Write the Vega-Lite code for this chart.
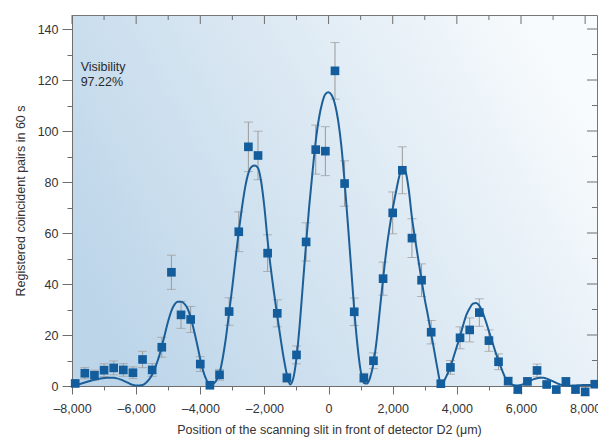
{
  "$schema": "https://vega.github.io/schema/vega-lite/v6.json",
  "width": 525,
  "height": 371,
  "autosize": {"type": "none"},
  "padding": {"left": 72, "top": 15, "right": 1, "bottom": 52},
  "background": "white",
  "config": {
    "font": "Liberation Sans",
    "view": {
      "stroke": "#777777",
      "strokeWidth": 1,
      "fill": {
        "gradient": "linear",
        "x1": 0, "y1": 0.7, "x2": 1, "y2": 0.3,
        "stops": [
          {"offset": 0, "color": "#bcd5e9"},
          {"offset": 0.5, "color": "#d9e7f2"},
          {"offset": 1, "color": "#f8fbfd"}
        ]
      }
    },
    "axis": {
      "grid": false,
      "domainColor": "#6e6e6e",
      "tickColor": "#6e6e6e",
      "labelColor": "#333333",
      "titleColor": "#333333",
      "labelFont": "Liberation Sans",
      "titleFont": "Liberation Sans",
      "labelFontSize": 12.5,
      "titleFontSize": 12.5,
      "titleFontWeight": "normal",
      "labelFlush": false,
      "labelOverlap": false,
      "labelBound": false
    }
  },
  "datasets": {
    "note": [{"t": "Visibility 97.22%"}],
    "xmajor": [{"v": -8000}, {"v": -6000}, {"v": -4000}, {"v": -2000}, {"v": 0}, {"v": 2000}, {"v": 4000}, {"v": 6000}, {"v": 8000}],
    "xminor": [{"v": -7000}, {"v": -5000}, {"v": -3000}, {"v": -1000}, {"v": 1000}, {"v": 3000}, {"v": 5000}, {"v": 7000}],
    "ymajor": [{"v": 20}, {"v": 40}, {"v": 60}, {"v": 80}, {"v": 100}, {"v": 120}, {"v": 140}],
    "yminor": [{"v": 10}, {"v": 30}, {"v": 50}, {"v": 70}, {"v": 90}, {"v": 110}, {"v": 130}],
    "curve": [
      {"x": -8000, "y": 0.3}, {"x": -7900, "y": 0.45}, {"x": -7800, "y": 0.7}, {"x": -7700, "y": 1.0},
      {"x": -7600, "y": 1.35}, {"x": -7500, "y": 1.75}, {"x": -7400, "y": 2.1}, {"x": -7300, "y": 2.45},
      {"x": -7200, "y": 2.75}, {"x": -7100, "y": 2.95}, {"x": -7000, "y": 3.1}, {"x": -6900, "y": 3.2},
      {"x": -6800, "y": 3.25}, {"x": -6700, "y": 3.2}, {"x": -6600, "y": 3.0}, {"x": -6500, "y": 2.6},
      {"x": -6400, "y": 2.1}, {"x": -6300, "y": 1.5}, {"x": -6200, "y": 0.9}, {"x": -6100, "y": 0.45},
      {"x": -6000, "y": 0.2}, {"x": -5900, "y": 0.2}, {"x": -5800, "y": 0.4}, {"x": -5700, "y": 1.2},
      {"x": -5600, "y": 2.5}, {"x": -5500, "y": 4.5}, {"x": -5400, "y": 7.5}, {"x": -5300, "y": 11},
      {"x": -5200, "y": 15.5}, {"x": -5100, "y": 20.5}, {"x": -5000, "y": 25.5}, {"x": -4900, "y": 29.5},
      {"x": -4800, "y": 32}, {"x": -4700, "y": 33}, {"x": -4600, "y": 33}, {"x": -4500, "y": 32.3},
      {"x": -4400, "y": 30.5}, {"x": -4300, "y": 27}, {"x": -4200, "y": 22}, {"x": -4100, "y": 16.5},
      {"x": -4000, "y": 10.5}, {"x": -3900, "y": 5.5}, {"x": -3800, "y": 2.2}, {"x": -3700, "y": 0.4},
      {"x": -3600, "y": 0.8}, {"x": -3500, "y": 2.2}, {"x": -3400, "y": 5}, {"x": -3300, "y": 11},
      {"x": -3200, "y": 19}, {"x": -3100, "y": 29}, {"x": -3000, "y": 39}, {"x": -2900, "y": 50},
      {"x": -2800, "y": 60.5}, {"x": -2700, "y": 70}, {"x": -2600, "y": 78}, {"x": -2500, "y": 83.5},
      {"x": -2400, "y": 86}, {"x": -2300, "y": 86.5}, {"x": -2200, "y": 85.5}, {"x": -2100, "y": 80},
      {"x": -2000, "y": 70}, {"x": -1900, "y": 57}, {"x": -1800, "y": 46}, {"x": -1700, "y": 36.5},
      {"x": -1600, "y": 27.5}, {"x": -1500, "y": 19}, {"x": -1400, "y": 11}, {"x": -1300, "y": 4.5},
      {"x": -1200, "y": 0.6}, {"x": -1100, "y": 3}, {"x": -1000, "y": 11}, {"x": -900, "y": 24},
      {"x": -800, "y": 40}, {"x": -700, "y": 56}, {"x": -600, "y": 71}, {"x": -500, "y": 84},
      {"x": -400, "y": 96}, {"x": -300, "y": 105}, {"x": -200, "y": 111}, {"x": -100, "y": 114.5},
      {"x": 0, "y": 115.2}, {"x": 100, "y": 114}, {"x": 200, "y": 110.5}, {"x": 300, "y": 104},
      {"x": 400, "y": 94}, {"x": 500, "y": 80}, {"x": 600, "y": 64}, {"x": 700, "y": 47},
      {"x": 800, "y": 30}, {"x": 900, "y": 16}, {"x": 1000, "y": 6}, {"x": 1100, "y": 1.2},
      {"x": 1200, "y": 1.0}, {"x": 1300, "y": 3.5}, {"x": 1400, "y": 9}, {"x": 1500, "y": 18},
      {"x": 1600, "y": 30}, {"x": 1700, "y": 42}, {"x": 1800, "y": 53}, {"x": 1900, "y": 62},
      {"x": 2000, "y": 69.5}, {"x": 2100, "y": 76}, {"x": 2200, "y": 82}, {"x": 2300, "y": 85.2},
      {"x": 2400, "y": 84}, {"x": 2500, "y": 77}, {"x": 2600, "y": 66}, {"x": 2700, "y": 57.5},
      {"x": 2800, "y": 49.5}, {"x": 2900, "y": 41.5}, {"x": 3000, "y": 34}, {"x": 3100, "y": 27.5},
      {"x": 3200, "y": 20.5}, {"x": 3300, "y": 13.5}, {"x": 3400, "y": 6.5}, {"x": 3500, "y": 0.8},
      {"x": 3600, "y": 2}, {"x": 3700, "y": 4.5}, {"x": 3800, "y": 7.5}, {"x": 3900, "y": 11.5},
      {"x": 4000, "y": 15.5}, {"x": 4100, "y": 19.5}, {"x": 4200, "y": 24}, {"x": 4300, "y": 28},
      {"x": 4400, "y": 30.5}, {"x": 4500, "y": 32.3}, {"x": 4600, "y": 32.6}, {"x": 4700, "y": 31.5},
      {"x": 4800, "y": 29}, {"x": 4900, "y": 25.5}, {"x": 5000, "y": 21.5}, {"x": 5100, "y": 17.5},
      {"x": 5200, "y": 13.5}, {"x": 5300, "y": 10}, {"x": 5400, "y": 6.5}, {"x": 5500, "y": 3.5},
      {"x": 5600, "y": 1.5}, {"x": 5700, "y": 0.6}, {"x": 5800, "y": 0.3}, {"x": 5900, "y": 0.2},
      {"x": 6000, "y": 0.4}, {"x": 6100, "y": 0.9}, {"x": 6200, "y": 1.5}, {"x": 6300, "y": 2.1},
      {"x": 6400, "y": 2.7}, {"x": 6500, "y": 3.05}, {"x": 6600, "y": 3.2}, {"x": 6700, "y": 3.2},
      {"x": 6800, "y": 2.9}, {"x": 6900, "y": 2.4}, {"x": 7000, "y": 1.8}, {"x": 7100, "y": 1.2},
      {"x": 7200, "y": 0.7}, {"x": 7300, "y": 0.3}, {"x": 7400, "y": 0.15}, {"x": 7500, "y": 0.1},
      {"x": 7600, "y": 0.15}, {"x": 7700, "y": 0.2}, {"x": 7800, "y": 0.3}, {"x": 7900, "y": 0.35},
      {"x": 8000, "y": 0.4}, {"x": 8100, "y": 0.4}, {"x": 8200, "y": 0.4}, {"x": 8300, "y": 0.35}
    ],
    "pts": [
      {"x": -7900, "y": 1.0, "lo": 0.0, "hi": 2.0},
      {"x": -7600, "y": 5.0, "lo": 2.8, "hi": 7.2},
      {"x": -7300, "y": 4.2, "lo": 2.2, "hi": 6.2},
      {"x": -7000, "y": 6.2, "lo": 3.7, "hi": 8.7},
      {"x": -6700, "y": 7.1, "lo": 4.4, "hi": 9.8},
      {"x": -6400, "y": 6.3, "lo": 3.8, "hi": 8.8},
      {"x": -6100, "y": 5.2, "lo": 2.9, "hi": 7.5},
      {"x": -5800, "y": 10.4, "lo": 7.2, "hi": 13.6},
      {"x": -5500, "y": 6.3, "lo": 3.8, "hi": 8.8},
      {"x": -5200, "y": 15.2, "lo": 11.3, "hi": 19.1},
      {"x": -4900, "y": 44.6, "lo": 37.9, "hi": 51.3},
      {"x": -4600, "y": 27.9, "lo": 22.6, "hi": 33.2},
      {"x": -4300, "y": 26.1, "lo": 21.0, "hi": 31.2},
      {"x": -4000, "y": 8.6, "lo": 5.7, "hi": 11.5},
      {"x": -3700, "y": 0.3, "lo": -0.2, "hi": 0.8},
      {"x": -3400, "y": 4.4, "lo": 2.3, "hi": 6.5},
      {"x": -3100, "y": 29.2, "lo": 23.8, "hi": 34.6},
      {"x": -2800, "y": 60.5, "lo": 52.7, "hi": 68.3},
      {"x": -2500, "y": 93.8, "lo": 84.1, "hi": 103.5},
      {"x": -2200, "y": 90.4, "lo": 80.9, "hi": 99.9},
      {"x": -1900, "y": 52.1, "lo": 44.9, "hi": 59.3},
      {"x": -1600, "y": 28.5, "lo": 23.2, "hi": 33.8},
      {"x": -1300, "y": 3.2, "lo": 1.4, "hi": 5.0},
      {"x": -1000, "y": 12.2, "lo": 8.7, "hi": 15.7},
      {"x": -700, "y": 56.5, "lo": 49.0, "hi": 64.0},
      {"x": -400, "y": 92.7, "lo": 83.1, "hi": 102.3},
      {"x": -100, "y": 92.1, "lo": 82.5, "hi": 101.7},
      {"x": 200, "y": 123.6, "lo": 112.5, "hi": 134.7},
      {"x": 500, "y": 79.4, "lo": 70.5, "hi": 88.3},
      {"x": 800, "y": 29.1, "lo": 23.7, "hi": 34.5},
      {"x": 1100, "y": 3.2, "lo": 1.4, "hi": 5.0},
      {"x": 1400, "y": 9.9, "lo": 6.8, "hi": 13.0},
      {"x": 1700, "y": 42.1, "lo": 35.6, "hi": 48.6},
      {"x": 2000, "y": 67.9, "lo": 59.7, "hi": 76.1},
      {"x": 2300, "y": 84.6, "lo": 75.4, "hi": 93.8},
      {"x": 2600, "y": 58.0, "lo": 50.4, "hi": 65.6},
      {"x": 2900, "y": 41.5, "lo": 35.1, "hi": 47.9},
      {"x": 3200, "y": 21.1, "lo": 16.5, "hi": 25.7},
      {"x": 3500, "y": 0.9, "lo": 0.0, "hi": 1.8},
      {"x": 3800, "y": 7.3, "lo": 4.6, "hi": 10.0},
      {"x": 4100, "y": 18.9, "lo": 14.6, "hi": 23.2},
      {"x": 4400, "y": 22.0, "lo": 17.3, "hi": 26.7},
      {"x": 4700, "y": 28.8, "lo": 23.4, "hi": 34.2},
      {"x": 5000, "y": 17.8, "lo": 13.6, "hi": 22.0},
      {"x": 5300, "y": 9.5, "lo": 6.4, "hi": 12.6},
      {"x": 5600, "y": 1.9, "lo": 0.5, "hi": 3.3},
      {"x": 5900, "y": -1.4, "lo": -2.6, "hi": -0.2},
      {"x": 6200, "y": 1.8, "lo": 0.5, "hi": 3.1},
      {"x": 6500, "y": 6.1, "lo": 3.6, "hi": 8.6},
      {"x": 6800, "y": 0.6, "lo": -0.2, "hi": 1.4},
      {"x": 7100, "y": -1.4, "lo": -2.6, "hi": -0.2},
      {"x": 7400, "y": 1.8, "lo": 0.5, "hi": 3.1},
      {"x": 7700, "y": -1.4, "lo": -2.6, "hi": -0.2},
      {"x": 8000, "y": -2.3, "lo": -3.8, "hi": -0.8},
      {"x": 8300, "y": 0.7, "lo": -0.1, "hi": 1.5}
    ]
  },
  "layer": [
    {
      "data": {"name": "xmajor"},
      "mark": {"type": "rule", "color": "#6e6e6e", "strokeWidth": 1},
      "encoding": {
        "x": {"field": "v", "type": "quantitative", "scale": {"domain": [-8000, 8370], "nice": false, "zero": false}, "axis": null},
        "y": {"datum": 145.5, "type": "quantitative", "scale": {"domain": [0, 145.5], "nice": false}, "axis": null},
        "y2": {"datum": 141.97}
      }
    },
    {
      "data": {"name": "xminor"},
      "mark": {"type": "rule", "color": "#6e6e6e", "strokeWidth": 1},
      "encoding": {
        "x": {"field": "v", "type": "quantitative", "scale": {"domain": [-8000, 8370], "nice": false, "zero": false}, "axis": null},
        "y": {"datum": 145.5, "type": "quantitative", "scale": {"domain": [0, 145.5], "nice": false}, "axis": null},
        "y2": {"datum": 143.54}
      }
    },
    {
      "data": {"name": "ymajor"},
      "mark": {"type": "rule", "color": "#6e6e6e", "strokeWidth": 1},
      "encoding": {
        "y": {"field": "v", "type": "quantitative", "scale": {"domain": [0, 145.5], "nice": false}, "axis": null},
        "x": {"datum": 8370, "type": "quantitative", "scale": {"domain": [-8000, 8370], "nice": false, "zero": false}, "axis": null},
        "x2": {"datum": 8058}
      }
    },
    {
      "data": {"name": "yminor"},
      "mark": {"type": "rule", "color": "#6e6e6e", "strokeWidth": 1},
      "encoding": {
        "y": {"field": "v", "type": "quantitative", "scale": {"domain": [0, 145.5], "nice": false}, "axis": null},
        "x": {"datum": 8370, "type": "quantitative", "scale": {"domain": [-8000, 8370], "nice": false, "zero": false}, "axis": null},
        "x2": {"datum": 8214}
      }
    },
    {
      "data": {"name": "pts"},
      "mark": {"type": "rule", "color": "#9a9a9a", "strokeWidth": 1},
      "encoding": {
        "x": {"field": "x", "type": "quantitative", "scale": {"domain": [-8000, 8370], "nice": false, "zero": false}, "axis": null},
        "y": {"field": "lo", "type": "quantitative", "scale": {"domain": [0, 145.5], "nice": false}, "axis": null},
        "y2": {"field": "hi"}
      }
    },
    {
      "data": {"name": "pts"},
      "mark": {"type": "tick", "orient": "horizontal", "size": 9, "thickness": 1, "color": "#9a9a9a"},
      "encoding": {
        "x": {"field": "x", "type": "quantitative", "scale": {"domain": [-8000, 8370], "nice": false, "zero": false}, "axis": null},
        "y": {"field": "lo", "type": "quantitative", "scale": {"domain": [0, 145.5], "nice": false}, "axis": null}
      }
    },
    {
      "data": {"name": "pts"},
      "mark": {"type": "tick", "orient": "horizontal", "size": 9, "thickness": 1, "color": "#9a9a9a"},
      "encoding": {
        "x": {"field": "x", "type": "quantitative", "scale": {"domain": [-8000, 8370], "nice": false, "zero": false}, "axis": null},
        "y": {"field": "hi", "type": "quantitative", "scale": {"domain": [0, 145.5], "nice": false}, "axis": null}
      }
    },
    {
      "data": {"name": "curve"},
      "mark": {"type": "line", "color": "#1c5f98", "strokeWidth": 2, "interpolate": "monotone", "clip": false},
      "encoding": {
        "x": {
          "field": "x", "type": "quantitative",
          "scale": {"domain": [-8000, 8370], "nice": false, "zero": false},
          "axis": {
            "orient": "bottom",
            "title": "Position of the scanning slit in front of detector D2 (μm)",
            "values": [-8000, -7000, -6000, -5000, -4000, -3000, -2000, -1000, 0, 1000, 2000, 3000, 4000, 5000, 6000, 7000, 8000],
            "labelExpr": "datum.value % 2000 === 0 ? replace(format(datum.value, ','), '−', '–') : ''",
            "tickSize": {"condition": {"test": "datum.value % 2000 === 0", "value": 8}, "value": 4},
            "labelPadding": 8,
            "titlePadding": 9,
            "titleX": 257
          }
        },
        "y": {
          "field": "y", "type": "quantitative",
          "scale": {"domain": [0, 145.5], "nice": false},
          "axis": {
            "orient": "left",
            "title": "Registered coincident pairs in 60 s",
            "values": [0, 10, 20, 30, 40, 50, 60, 70, 80, 90, 100, 110, 120, 130, 140],
            "labelExpr": "datum.value % 20 === 0 ? format(datum.value, 'd') : ''",
            "tickSize": {"condition": {"test": "datum.value % 20 === 0", "value": 10}, "value": 5},
            "labelPadding": 4,
            "titlePadding": 10
          }
        }
      }
    },
    {
      "data": {"name": "pts"},
      "mark": {"type": "point", "shape": "square", "filled": true, "size": 75, "color": "#135d9c", "opacity": 1, "clip": false},
      "encoding": {
        "x": {"field": "x", "type": "quantitative", "scale": {"domain": [-8000, 8370], "nice": false, "zero": false}, "axis": null},
        "y": {"field": "y", "type": "quantitative", "scale": {"domain": [0, 145.5], "nice": false}, "axis": null}
      }
    },
    {
      "data": {"name": "note"},
      "mark": {"type": "text", "align": "left", "baseline": "alphabetic", "fontSize": 12.5, "lineHeight": 15.7, "color": "#2a2a2a", "font": "Liberation Sans"},
      "encoding": {
        "x": {"datum": -7730, "type": "quantitative", "scale": {"domain": [-8000, 8370], "nice": false, "zero": false}, "axis": null},
        "y": {"datum": 123.7, "type": "quantitative", "scale": {"domain": [0, 145.5], "nice": false}, "axis": null},
        "text": {"value": ["Visibility", "97.22%"]}
      }
    }
  ],
  "resolve": {"axis": {"x": "independent", "y": "independent"}}
}
